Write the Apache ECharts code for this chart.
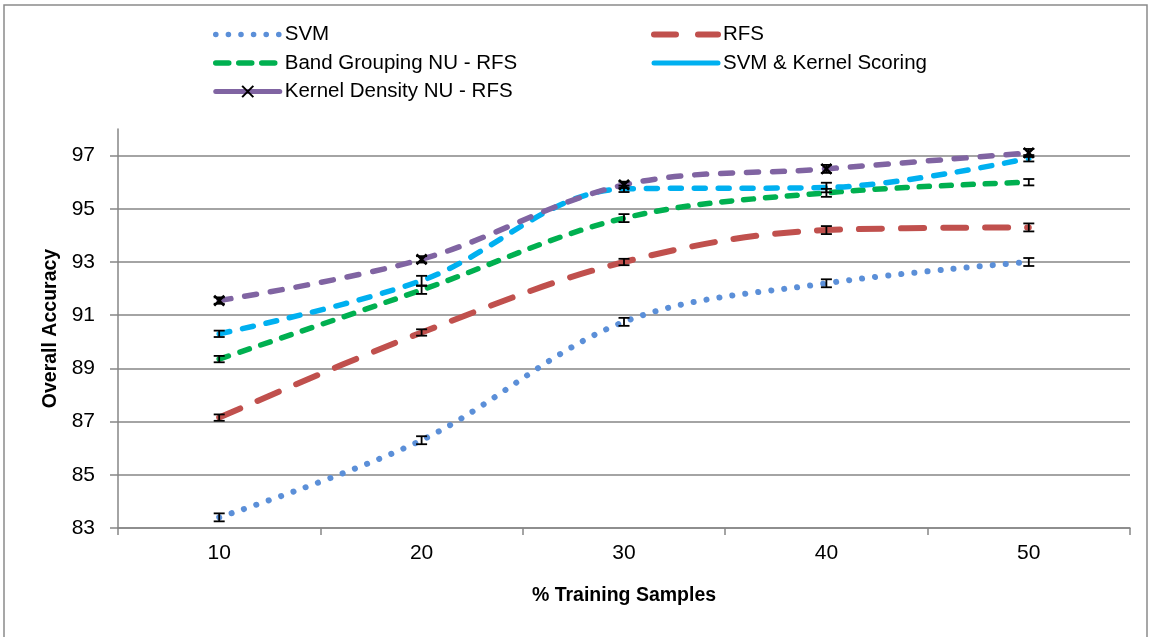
<!DOCTYPE html>
<html>
<head>
<meta charset="utf-8">
<script src="https://cdn.jsdelivr.net/npm/echarts@6/dist/echarts.min.js"></script>
<style>
  html, body { margin: 0; padding: 0; background: #fff; }
  #main { width: 1151px; height: 637px; }
</style>
</head>
<body>
<div id="main"></div>
<script>
// categories (% training samples)
var samples = ['10', '20', '30', '40', '50'];

// overall accuracy per method
var svm = [83.4, 86.3, 90.75, 92.2, 93.0];
var rfs = [87.15, 90.35, 93.0, 94.2, 94.3];
var bandGrouping = [89.35, 91.95, 94.65, 95.6, 96.0];
var svmKernel = [90.3, 92.3, 95.75, 95.8, 96.9];
var kernelDensity = [91.55, 93.1, 95.9, 96.5, 97.1];

// error bar half widths
var svmErr = [0.15, 0.15, 0.15, 0.15, 0.15];
var rfsErr = [0.12, 0.12, 0.12, 0.15, 0.15];
var bandErr = [0.12, 0.15, 0.15, 0.15, 0.12];
var svmKernelErr = [0.12, 0.18, 0.12, 0.18, 0.12];
var densityErr = [0.12, 0.12, 0.12, 0.15, 0.15];

var font = 'Liberation Sans';
var axisGray = '#868686';

var chart = echarts.init(document.getElementById('main'));

function errorBars(name, vals, errs) {
  return {
    type: 'custom',
    name: name + ' error',
    z: 10,
    silent: true,
    data: vals.map(function (v, i) { return [i, v - errs[i], v + errs[i]]; }),
    renderItem: function (params, api) {
      var lo = api.coord([api.value(0), api.value(1)]);
      var hi = api.coord([api.value(0), api.value(2)]);
      var w = 5.5;
      var st = { stroke: '#000', lineWidth: 1.8 };
      return {
        type: 'group',
        children: [
          { type: 'line', shape: { x1: lo[0], y1: lo[1], x2: hi[0], y2: hi[1] }, style: st },
          { type: 'line', shape: { x1: lo[0] - w, y1: lo[1], x2: lo[0] + w, y2: lo[1] }, style: st },
          { type: 'line', shape: { x1: hi[0] - w, y1: hi[1], x2: hi[0] + w, y2: hi[1] }, style: st }
        ]
      };
    }
  };
}

function lineSeries(name, vals, color, width, dash, extra) {
  var s = {
    type: 'line',
    name: name,
    data: vals,
    smooth: 0.35,
    symbol: 'none',
    itemStyle: { color: color },
    lineStyle: { color: color, width: width, type: dash, cap: 'round' },
    z: 5
  };
  return Object.assign(s, extra || {});
}

var legendText = { fontFamily: font, fontSize: 20.5, color: '#000', lineHeight: 20 };
var noSymbol = { opacity: 0 };

var option = {
  backgroundColor: '#fff',
  animation: false,
  graphic: [{
    type: 'rect',
    shape: { x: 4, y: 5, width: 1143, height: 640 },
    style: { fill: 'none', stroke: '#8a8a8a', lineWidth: 1.5 },
    silent: true
  }],
  legend: [{
    left: 213, top: 24, orient: 'vertical', padding: 0,
    itemWidth: 64, itemHeight: 14, itemGap: 7.5,
    textStyle: legendText,
    data: [
      { name: 'SVM', itemStyle: noSymbol, lineStyle: { width: 5.5, type: [0.1, 12.5], cap: 'round' } },
      { name: 'Band Grouping NU - RFS', itemStyle: noSymbol, lineStyle: { width: 5.5, type: [13, 10], cap: 'round' } },
      { name: 'Kernel Density NU - RFS', lineStyle: { width: 5, type: 'solid' } }
    ]
  }, {
    left: 651, top: 24, orient: 'vertical', padding: 0,
    itemWidth: 64, itemHeight: 14, itemGap: 7.5,
    textStyle: legendText,
    data: [
      { name: 'RFS', itemStyle: noSymbol, lineStyle: { width: 6, type: [22, 22], cap: 'round' } },
      { name: 'SVM & Kernel Scoring', itemStyle: noSymbol, lineStyle: { width: 5, type: 'solid' } }
    ]
  }],
  grid: { left: 118, right: 21, top: 129, bottom: 109 },
  xAxis: {
    type: 'category',
    data: samples,
    boundaryGap: true,
    name: '% Training Samples',
    nameLocation: 'middle',
    nameGap: 58,
    nameTextStyle: { fontFamily: font, fontSize: 19.5, fontWeight: 'bold', color: '#000' },
    axisLine: { lineStyle: { color: axisGray, width: 1.5 } },
    axisTick: { show: true, length: 7, lineStyle: { color: axisGray, width: 1.5 } },
    axisLabel: { margin: 15, fontFamily: font, fontSize: 21, color: '#000' },
    splitLine: { show: false }
  },
  yAxis: {
    type: 'value',
    min: 83,
    max: 98,
    interval: 2,
    name: 'Overall Accuracy',
    nameLocation: 'middle',
    nameRotate: 90,
    nameGap: 54,
    nameTextStyle: { fontFamily: font, fontSize: 19.5, fontWeight: 'bold', color: '#000' },
    axisLine: { show: true, lineStyle: { color: axisGray, width: 1.5 } },
    axisTick: { show: true, length: 8, lineStyle: { color: axisGray, width: 1.5 } },
    axisLabel: { margin: 23, fontFamily: font, fontSize: 21, color: '#000', showMaxLabel: false },
    splitLine: { show: true, showMaxLine: false, lineStyle: { color: axisGray, width: 1.5 } }
  },
  series: [
    lineSeries('SVM', svm, '#5B8FD8', 6, [0.1, 13]),
    lineSeries('RFS', rfs, '#C0504D', 6, [23, 19]),
    lineSeries('Band Grouping NU - RFS', bandGrouping, '#00B050', 5.5, [10, 12]),
    lineSeries('SVM & Kernel Scoring', svmKernel, '#00B0F0', 5.5, [11, 13]),
    lineSeries('Kernel Density NU - RFS', kernelDensity, '#8064A2', 5.5, [12, 14], {
      symbol: 'path://M0,0L10,10M10,0L0,10',
      symbolSize: 10,
      showSymbol: true,
      itemStyle: { color: '#000', borderColor: '#000', borderWidth: 2.5 }
    }),
    errorBars('SVM', svm, svmErr),
    errorBars('RFS', rfs, rfsErr),
    errorBars('Band Grouping NU - RFS', bandGrouping, bandErr),
    errorBars('SVM & Kernel Scoring', svmKernel, svmKernelErr),
    errorBars('Kernel Density NU - RFS', kernelDensity, densityErr)
  ]
};

chart.setOption(option);
</script>
</body>
</html>
